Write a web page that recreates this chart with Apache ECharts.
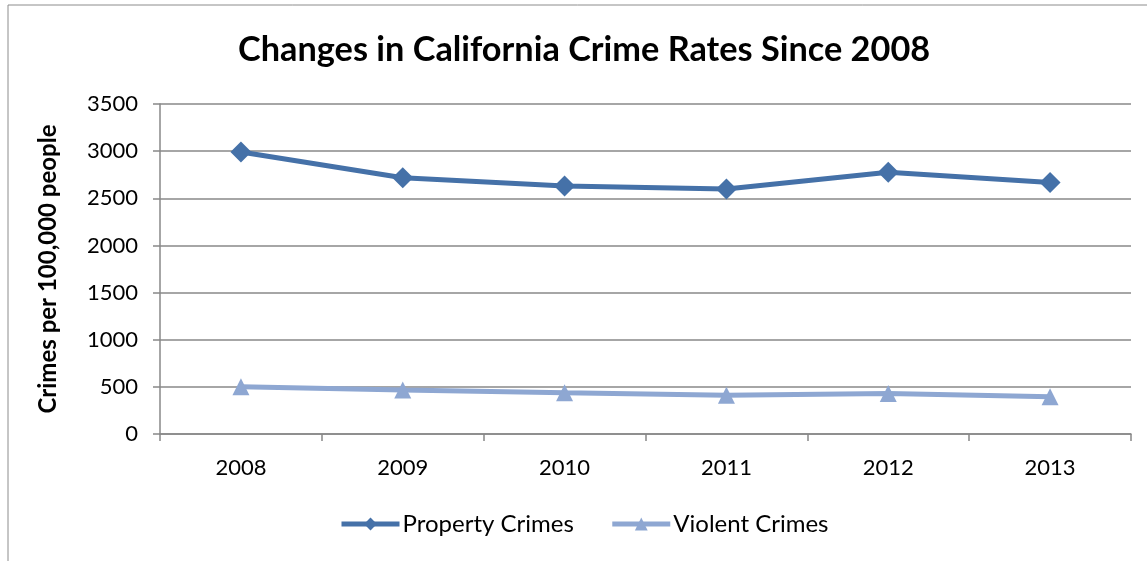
<!DOCTYPE html>
<html>
<head>
<meta charset="utf-8">
<script src="https://cdn.jsdelivr.net/npm/echarts@6/dist/echarts.min.js"></script>
<style>html,body{margin:0;padding:0;background:#fff;}#c{width:1147px;height:561px;}</style>
</head>
<body>
<div id="c"></div>
<script>
const years = ['2008','2009','2010','2011','2012','2013'];
const propertyCrimes = [2990, 2718, 2630, 2598, 2776, 2668];
const violentCrimes = [502, 467, 438, 410, 430, 396];
const yTicks = { min: 0, max: 3500, interval: 500 };

const font = 'Lato, "Open Sans", sans-serif';
const chart = echarts.init(document.getElementById('c'));
chart.setOption({
  animation: false,
  backgroundColor: '#fff',
  title: {
    text: 'Changes in California Crime Rates Since 2008',
    left: 233, top: 28,
    textStyle: { fontFamily: font, fontSize: 34.3, fontWeight: 'bold', color: '#000' }
  },
  graphic: [
    { type: 'line', shape: { x1: 8, y1: 5, x2: 1147, y2: 5 }, style: { stroke: '#8c8c8c', lineWidth: 1 } },
    { type: 'line', shape: { x1: 8, y1: 5, x2: 8, y2: 561 }, style: { stroke: '#8c8c8c', lineWidth: 1 } }
  ],
  grid: { left: 160, right: 16, top: 104, bottom: 127 },
  legend: {
    bottom: 20, left: 334,
    itemWidth: 58, itemHeight: 16, itemGap: 36,
    lineStyle: { width: 5 },
    textStyle: { fontFamily: font, fontSize: 24, color: '#000', padding: [0, 0, 0, -2] },
    data: ['Property Crimes', 'Violent Crimes']
  },
  xAxis: {
    type: 'category', data: years, boundaryGap: true,
    axisLine: { lineStyle: { color: '#888', width: 1.5 } },
    axisTick: { show: true, length: 7, lineStyle: { color: '#888', width: 1.5 } },
    axisLabel: { fontFamily: font, fontSize: 22, color: '#000', margin: 23 }
  },
  yAxis: {
    type: 'value', min: yTicks.min, max: yTicks.max, interval: yTicks.interval,
    name: 'Crimes per 100,000 people', nameLocation: 'middle', nameGap: 100,
    nameTextStyle: { fontFamily: font, fontSize: 24, fontWeight: 'bold', color: '#000' },
    axisLine: { show: true, lineStyle: { color: '#888', width: 1.5 } },
    axisTick: { show: true, length: 7, lineStyle: { color: '#888', width: 1.5 } },
    splitLine: { lineStyle: { color: '#888', width: 1.5 } },
    axisLabel: { fontFamily: font, fontSize: 22, color: '#000', margin: 22, formatter: v => String(v) }
  },
  series: [
    {
      name: 'Property Crimes', type: 'line', data: propertyCrimes,
      symbol: 'diamond', symbolSize: 21,
      lineStyle: { color: '#4571A8', width: 5 },
      itemStyle: { color: '#4571A8' }
    },
    {
      name: 'Violent Crimes', type: 'line', data: violentCrimes,
      symbol: 'triangle', symbolSize: 17,
      lineStyle: { color: '#8EA7D2', width: 5 },
      itemStyle: { color: '#8EA7D2' }
    }
  ]
});
</script>
</body>
</html>
